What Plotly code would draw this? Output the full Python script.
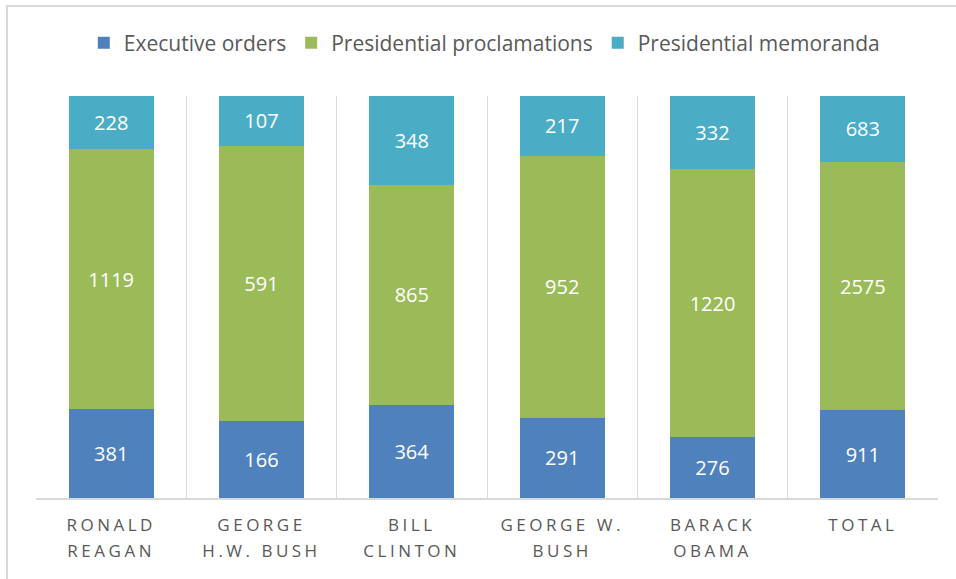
import plotly.graph_objects as go

categories = ["RONALD<br>REAGAN", "GEORGE<br>H.W. BUSH", "BILL<br>CLINTON",
              "GEORGE W.<br>BUSH", "BARACK<br>OBAMA", "TOTAL"]
executive_orders = [381, 166, 364, 291, 276, 911]
proclamations = [1119, 591, 865, 952, 1220, 2575]
memoranda = [228, 107, 348, 217, 332, 683]

series = [
    ("Executive orders", executive_orders, "#4F81BD"),
    ("Presidential proclamations", proclamations, "#9BBB59"),
    ("Presidential memoranda", memoranda, "#4BACC6"),
]

fig = go.Figure()
for name, vals, color in series:
    fig.add_trace(go.Bar(
        x=categories, y=vals, name=name,
        marker=dict(color=color, line=dict(width=0)),
        text=[str(v) for v in vals], textposition="inside",
        insidetextanchor="middle", textangle=0,
        textfont=dict(color="white", size=20, family="Open Sans"),
        hoverinfo="skip",
    ))

W, H = 956, 579
ml, mr, mt, mb = 36, 18, 96, 81
pw, ph = W - ml - mr, H - mt - mb

fig.update_layout(
    width=W, height=H,
    barmode="stack", barnorm="percent", bargap=0.435,
    margin=dict(l=ml, r=mr, t=mt, b=mb),
    paper_bgcolor="white", plot_bgcolor="white",
    font=dict(family="Open Sans", color="#595959"),
    showlegend=True,
    legend=dict(orientation="h", x=0.497, xanchor="center", y=1.0 + (96 - 43) / ph,
                yanchor="middle", font=dict(size=21, color="#595959"),
                traceorder="normal", itemwidth=30),
    uniformtext=dict(minsize=10, mode="show"),
    shapes=[
        dict(type="rect", xref="paper", yref="paper",
             x0=(7 - ml) / pw, x1=(W + 20 - ml) / pw,
             y0=(H - 6 - mb) / ph, y1=-(mb + 20) / ph,
             line=dict(color="#D9D9D9", width=2), fillcolor="rgba(0,0,0,0)", layer="above"),
    ],
)
fig.update_xaxes(
    type="category", tickson="boundaries", showgrid=True, gridcolor="#D9D9D9", gridwidth=1,
    showline=True, linecolor="#D9D9D9", linewidth=1.5, ticks="",
    tickfont=dict(size=17, color="#595959", family="Open Sans"),
    ticklabelstandoff=11,
)
fig.update_yaxes(range=[0, 100], showgrid=False, showticklabels=False, zeroline=False,
                 showline=False)

post = """
document.body.style.margin='0';
document.documentElement.style.margin='0';
document.querySelectorAll('.xtick text').forEach(function(t){
  t.style.letterSpacing='3.5px';
  var sp=t.querySelectorAll('tspan.line');
  sp.forEach(function(s,i){ if(i>0){ s.setAttribute('dy', '26'); } });
});
"""
fig.write_html("out.html", post_script=post, config={"displayModeBar": False})
